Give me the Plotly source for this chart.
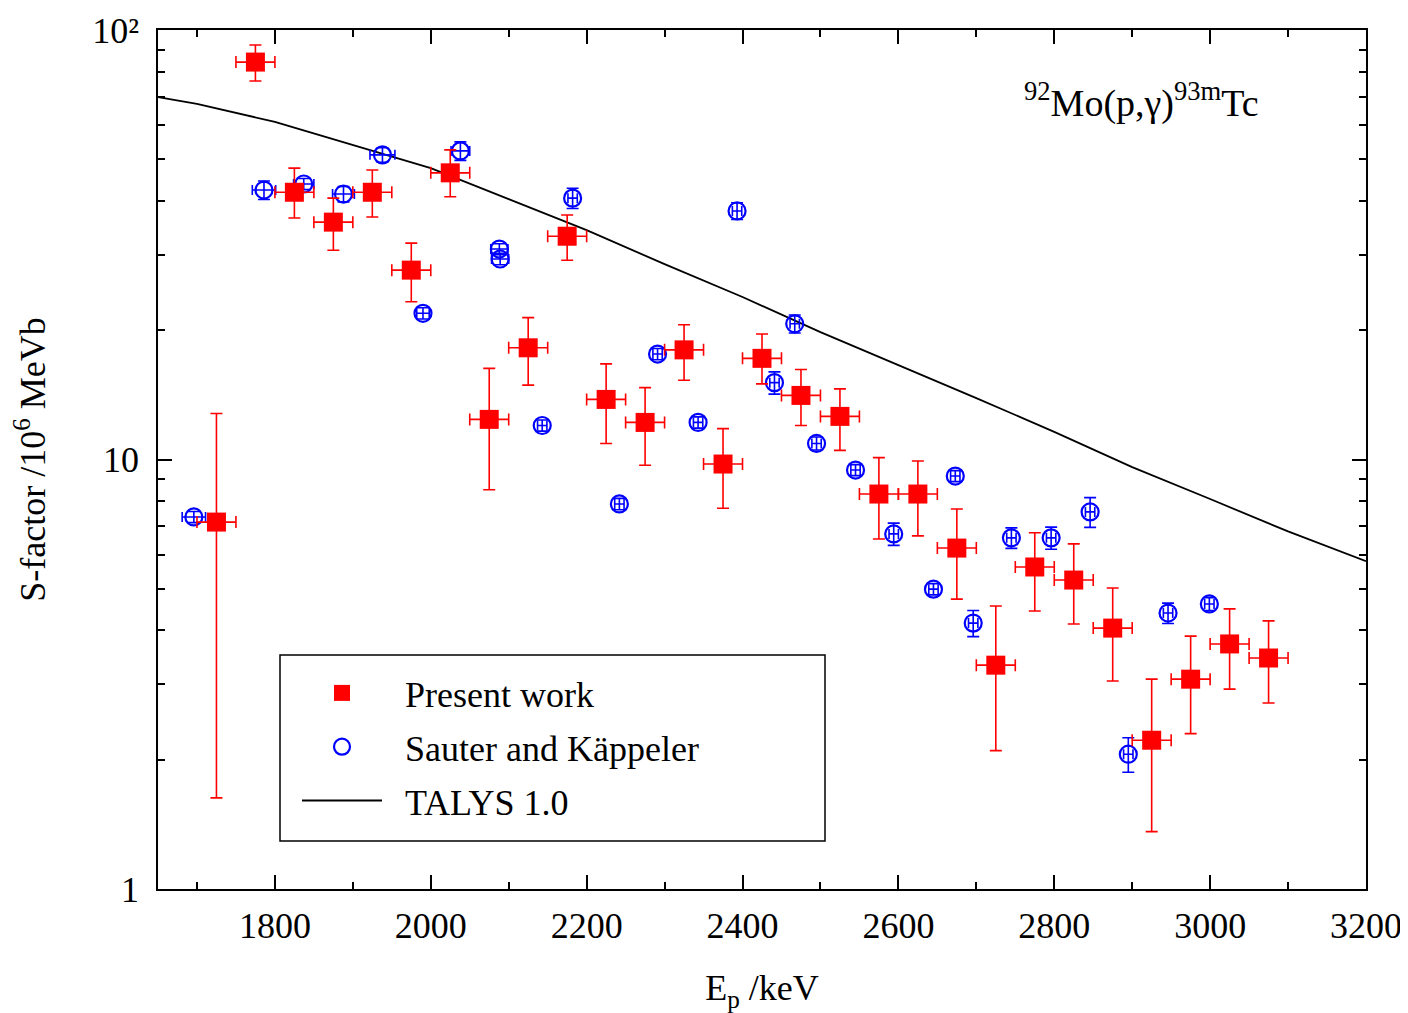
import plotly.graph_objects as go

# ---------------- data ----------------
# Present work (red squares)
E_pw = [1725, 1775, 1825, 1875, 1925, 1975, 2025, 2075, 2125, 2175, 2225, 2275, 2325, 2375,
        2425, 2475, 2525, 2575, 2625, 2675, 2725, 2775, 2825, 2875, 2925, 2975, 3025, 3075]
S_pw = [7.15, 84.2, 41.9, 35.7, 41.9, 27.6, 46.5, 12.4, 18.2, 33.1, 13.8, 12.2, 18.0, 9.76,
        17.2, 14.1, 12.6, 8.31, 8.31, 6.22, 3.32, 5.62, 5.24, 4.05, 2.22, 3.08, 3.72, 3.45]
S_pw_hi = [12.8, 92.3, 47.7, 40.6, 47.2, 31.9, 52.6, 16.3, 21.4, 37.1, 16.7, 14.7, 20.6, 11.8,
           19.6, 16.2, 14.6, 10.1, 9.92, 7.67, 4.56, 6.75, 6.36, 5.02, 3.08, 3.88, 4.49, 4.21]
S_pw_lo = [1.63, 76.1, 36.5, 30.7, 36.7, 23.3, 40.9, 8.5, 14.9, 29.1, 10.9, 9.7, 15.3, 7.7,
           15.0, 12.0, 10.5, 6.53, 6.64, 4.73, 2.10, 4.44, 4.14, 3.05, 1.36, 2.30, 2.92, 2.71]
dE_pw = [25] * len(E_pw)

# Sauter and Käppeler (blue open circles)
E_sk = [1696, 1786, 1837, 1888, 1938, 1990, 2038, 2088, 2089, 2143, 2182, 2242, 2291, 2343,
        2393, 2441, 2467, 2495, 2545, 2594, 2645, 2673, 2696, 2745, 2796, 2846, 2895, 2946, 2999]
S_sk = [7.35, 42.4, 43.8, 41.5, 51.2, 21.9, 52.3, 30.9, 29.3, 12.0, 40.6, 7.88, 17.6, 12.2,
        37.9, 15.1, 20.7, 10.9, 9.45, 6.71, 4.99, 9.15, 4.16, 6.57, 6.57, 7.55, 2.06, 4.39, 4.61]
dS_sk = [0.22, 2.1, 1.3, 1.7, 2.0, 0.66, 2.6, 0.9, 0.9, 0.36, 2.2, 0.24, 0.53, 0.37,
         1.7, 0.9, 1.0, 0.38, 0.28, 0.40, 0.15, 0.27, 0.29, 0.36, 0.39, 0.60, 0.19, 0.24, 0.16]
dE_sk = [15, 15, 13, 14, 16, 8, 12, 11, 11, 6, 6, 6, 6, 6,
         6, 6, 6, 6, 6, 6, 6, 6, 6, 6, 6, 6, 6, 6, 6]

# TALYS 1.0 (black line)
E_talys = [1650, 1700, 1800, 1900, 2000, 2100, 2200, 2300, 2400, 2500, 2600, 2700, 2800,
           2900, 3000, 3100, 3200]
S_talys = [69.8, 67.3, 61.1, 54.0, 47.7, 40.4, 34.2, 28.5, 23.9, 19.8, 16.6, 13.9, 11.6,
           9.6, 8.09, 6.8, 5.8]

x_ticks = [1800, 2000, 2200, 2400, 2600, 2800, 3000, 3200]
y_ticks = [1, 10, 100]
y_ticktext = ["1", "10", "10²"]
y_minor = [2, 3, 4, 5, 6, 7, 8, 9, 20, 30, 40, 50, 60, 70, 80, 90]

FONT = "Liberation Serif"
FS = 36
NB = "\u00a0\u00a0"

# page body has an 8 px margin: figure is 8 px smaller, margins shifted accordingly
W, H = 1400, 1005
ML, MT, MR = 150, 22, 42
PW, PH = 1208, 859
MB = H - MT - PH

def px_x(p):  # reference pixel -> paper x
    return (p - 158) / PW

def px_y(p):  # reference pixel -> paper y
    return (889 - p) / PH

up_pw = [h - s for h, s in zip(S_pw_hi, S_pw)]
dn_pw = [s - l for s, l in zip(S_pw, S_pw_lo)]

fig = go.Figure()

fig.add_trace(go.Scatter(
    x=E_talys, y=S_talys, mode="lines", name=NB + "TALYS 1.0",
    line=dict(color="black", width=1.8), legendrank=3, legendgroup="c"))

fig.add_trace(go.Scatter(
    x=E_sk, y=S_sk, mode="markers", name=NB + "Sauter and Käppeler",
    marker=dict(symbol="circle-open", size=17, color="blue", line=dict(width=2.2, color="blue")),
    error_y=dict(type="data", array=dS_sk, color="blue", thickness=1.6, width=6),
    error_x=dict(type="data", array=dE_sk, color="blue", thickness=1.6, width=5),
    legendrank=2, legendgroup="b"))

fig.add_trace(go.Scatter(
    x=E_pw, y=S_pw, mode="markers", name=NB + "Present work",
    marker=dict(symbol="square", size=19, color="red"),
    error_y=dict(type="data", symmetric=False, array=up_pw, arrayminus=dn_pw,
                 color="red", thickness=1.6, width=6),
    error_x=dict(type="data", array=dE_pw, color="red", thickness=1.6, width=6),
    legendrank=1, legendgroup="a"))

fig.update_layout(
    width=W, height=H,
    margin=dict(l=ML, r=MR, t=MT, b=MB, autoexpand=False),
    paper_bgcolor="white", plot_bgcolor="white",
    font=dict(family=FONT, size=FS, color="black"),
    showlegend=True,
    legend=dict(x=px_x(297), y=px_y(663), xanchor="left", yanchor="top",
                bgcolor="rgba(0,0,0,0)", borderwidth=0, itemwidth=80,
                tracegroupgap=4, font=dict(family=FONT, size=FS)),
    shapes=[dict(type="rect", xref="paper", yref="paper",
                 x0=px_x(280), x1=px_x(825), y0=px_y(841), y1=px_y(655),
                 line=dict(color="black", width=1.5), fillcolor="rgba(0,0,0,0)")],
    annotations=[dict(text="<sup>92</sup>Mo(p,γ)<sup>93m</sup>Tc", xref="paper", yref="paper",
                      x=px_x(1141), y=px_y(100), showarrow=False,
                      xanchor="center", yanchor="middle", font=dict(family=FONT, size=38))],
)

fig.update_xaxes(
    range=[1650, 3200], tickmode="array", tickvals=x_ticks,
    ticks="inside", ticklen=14, tickwidth=1.5, tickcolor="black",
    minor=dict(dtick=100, tick0=1700, ticks="inside", ticklen=7, tickwidth=1.5, tickcolor="black"),
    showline=True, linecolor="black", linewidth=1.5, mirror="ticks",
    showgrid=False, zeroline=False, ticklabelstandoff=4, ticklabeloverflow="allow",
    tickfont=dict(family=FONT, size=FS),
    title=dict(text="E<sub>p</sub> /keV", font=dict(family=FONT, size=FS), standoff=30))

fig.update_yaxes(
    type="log", range=[0, 2], tickmode="array", tickvals=y_ticks, ticktext=y_ticktext,
    ticks="inside", ticklen=14, tickwidth=1.5, tickcolor="black",
    minor=dict(tickmode="array", tickvals=y_minor, ticks="inside", ticklen=7, tickwidth=1.5,
               tickcolor="black"),
    showline=True, linecolor="black", linewidth=1.5, mirror="ticks",
    showgrid=False, zeroline=False, ticklabelstandoff=10, ticklabeloverflow="allow",
    tickfont=dict(family=FONT, size=FS),
    title=dict(text="S-factor /10<sup>6</sup> MeVb", font=dict(family=FONT, size=FS), standoff=38))

fig.write_html("out.html")
